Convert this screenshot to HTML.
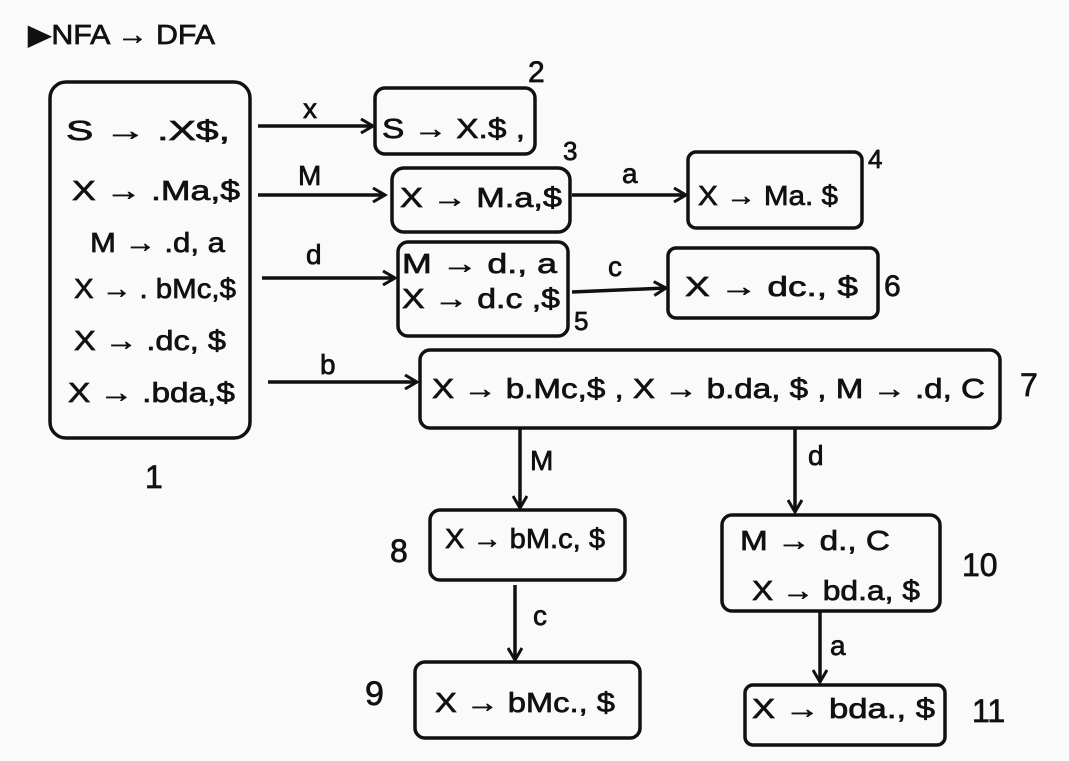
<!DOCTYPE html>
<html><head><style>
html,body{margin:0;padding:0;background:#fafafa;}
svg{display:block;}
text{font-family:"Liberation Sans",sans-serif;fill:#111;stroke:#111;stroke-width:0.7;}
</style></head><body>
<svg width="1069" height="761" viewBox="0 0 1069 761" xmlns="http://www.w3.org/2000/svg">
<rect width="1069" height="761" fill="#fafafa"/>
<defs><marker id="ah" markerWidth="16" markerHeight="16" refX="13" refY="8" orient="auto" markerUnits="userSpaceOnUse"><path d="M1,1 L13,8 L1,15" fill="none" stroke="#111" stroke-width="3"/></marker></defs>
<g fill="none" stroke="#111" stroke-width="3.5">
<rect x="50" y="82" width="200" height="356" rx="16"/>
<rect x="375" y="88" width="160" height="66" rx="10"/>
<rect x="392" y="168" width="178" height="64" rx="12"/>
<rect x="688" y="152" width="174" height="76" rx="8"/>
<rect x="398" y="242" width="170" height="94" rx="10"/>
<rect x="668" y="248" width="210" height="70" rx="8"/>
<rect x="420" y="350" width="580" height="78" rx="10"/>
<rect x="430" y="510" width="195" height="70" rx="10"/>
<rect x="415" y="662" width="225" height="76" rx="10"/>
<rect x="722" y="515" width="218" height="96" rx="10"/>
<rect x="745" y="685" width="200" height="60" rx="8"/>
<g marker-end="url(#ah)">
<line x1="258" y1="126" x2="373" y2="126"/>
<line x1="258" y1="195" x2="385" y2="195"/>
<line x1="572" y1="195" x2="686" y2="195"/>
<line x1="262" y1="278" x2="395" y2="278"/>
<line x1="572" y1="292" x2="666" y2="288"/>
<line x1="268" y1="382" x2="417" y2="382"/>
<line x1="520" y1="428" x2="520" y2="508"/>
<line x1="795" y1="428" x2="795" y2="512"/>
<line x1="515" y1="585" x2="515" y2="660"/>
<line x1="820" y1="612" x2="820" y2="682"/>
</g>
</g>
<g font-size="28">
<text x="28" y="44" font-size="28" textLength="187" lengthAdjust="spacingAndGlyphs">▶NFA → DFA</text>
<text x="66" y="140" textLength="164" lengthAdjust="spacingAndGlyphs">S → .X$,</text>
<text x="72" y="200" textLength="168" lengthAdjust="spacingAndGlyphs">X → .Ma,$</text>
<text x="90" y="252" textLength="135" lengthAdjust="spacingAndGlyphs">M → .d, a</text>
<text x="74" y="298" textLength="162" lengthAdjust="spacingAndGlyphs">X → . bMc,$</text>
<text x="74" y="350" textLength="152" lengthAdjust="spacingAndGlyphs">X → .dc, $</text>
<text x="68" y="402" textLength="167" lengthAdjust="spacingAndGlyphs">X → .bda,$</text>
<text x="382" y="138" textLength="143" lengthAdjust="spacingAndGlyphs">S → X.$ ,</text>
<text x="400" y="207" textLength="162" lengthAdjust="spacingAndGlyphs">X → M.a,$</text>
<text x="698" y="205" textLength="140" lengthAdjust="spacingAndGlyphs">X → Ma. $</text>
<text x="402" y="273" textLength="155" lengthAdjust="spacingAndGlyphs">M → d., a</text>
<text x="402" y="308" textLength="158" lengthAdjust="spacingAndGlyphs">X → d.c ,$</text>
<text x="685" y="296" textLength="173" lengthAdjust="spacingAndGlyphs">X → dc., $</text>
<text x="432" y="398" textLength="553" lengthAdjust="spacingAndGlyphs">X → b.Mc,$ , X → b.da, $ , M → .d, C</text>
<text x="445" y="548" textLength="160" lengthAdjust="spacingAndGlyphs">X → bM.c, $</text>
<text x="435" y="712" textLength="180" lengthAdjust="spacingAndGlyphs">X → bMc., $</text>
<text x="740" y="550" textLength="150" lengthAdjust="spacingAndGlyphs">M → d., C</text>
<text x="752" y="600" textLength="168" lengthAdjust="spacingAndGlyphs">X → bd.a, $</text>
<text x="752" y="718" textLength="183" lengthAdjust="spacingAndGlyphs">X → bda., $</text>
<text x="303" y="118">x</text>
<text x="298" y="185">M</text>
<text x="622" y="183">a</text>
<text x="306" y="264">d</text>
<text x="608" y="276">c</text>
<text x="320" y="374">b</text>
<text x="530" y="470">M</text>
<text x="808" y="465">d</text>
<text x="533" y="625">c</text>
<text x="830" y="655">a</text>
<text x="528" y="82" font-size="30">2</text>
<text x="563" y="160" font-size="26">3</text>
<text x="868" y="168" font-size="26">4</text>
<text x="574" y="330" font-size="26">5</text>
<text x="884" y="296" font-size="30">6</text>
<text x="1020" y="396" font-size="32">7</text>
<text x="145" y="488" font-size="32">1</text>
<text x="390" y="562" font-size="32">8</text>
<text x="962" y="576" font-size="32">10</text>
<text x="365" y="705" font-size="34">9</text>
<text x="972" y="722" font-size="32">11</text>
</g>
</svg>
</body></html>
